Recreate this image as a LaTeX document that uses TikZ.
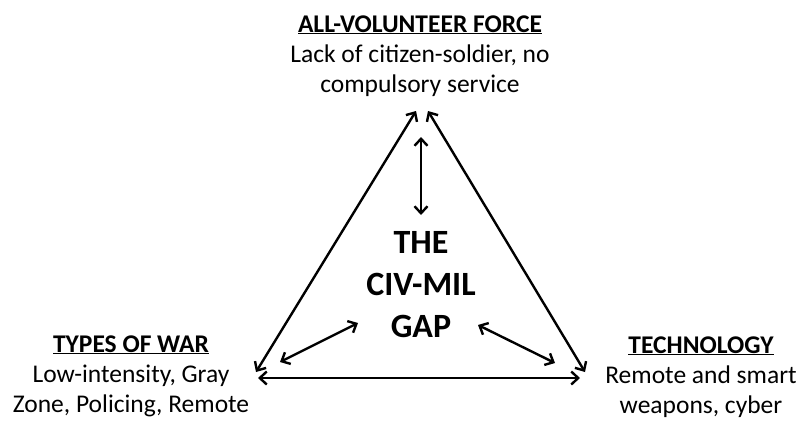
\documentclass[tikz,border=0pt]{standalone}
\usepackage{fontspec}
\setmainfont{Carlito}
\usetikzlibrary{arrows.meta}
\begin{document}
\begin{tikzpicture}[x=1pt,y=-1pt,
  dblarrow/.style={line width=2.4pt,{Straight Barb[length=7pt,width=13pt]}-{Straight Barb[length=7pt,width=13pt]}},
  label/.style={align=center,font=\fontsize{25.5}{30}\selectfont,inner sep=0pt,anchor=base},
  gap/.style={align=center,font=\fontsize{34}{42}\selectfont\bfseries,inner sep=0pt,anchor=base}]
\useasboundingbox (0,0) rectangle (797,421);
\node[label] (avf) at (420,92) {\textbf{\underline{ALL-VOLUNTEER FORCE}}\\Lack of citizen-soldier, no\\compulsory service};
\node[label] (tow) at (131,412) {\textbf{\underline{TYPES OF WAR}}\\Low-intensity, Gray\\Zone, Policing, Remote};
\node[label] (tech) at (701,413) {\textbf{\underline{TECHNOLOGY}}\\Remote and smart\\weapons, cyber};
\node[gap] (gap) at (421,337) {THE\\CIV-MIL\\GAP};
\coordinate (tl) at (416,111);
\coordinate (tr) at (428,111);
\coordinate (bl) at (256,372);
\coordinate (br) at (585,372);
\coordinate (hl) at (258,378);
\coordinate (hr) at (580,378);
\coordinate (vt) at (421,137);
\coordinate (vb) at (421,215);
\coordinate (il1) at (358,323);
\coordinate (il2) at (280,362);
\coordinate (ir1) at (478,325);
\coordinate (ir2) at (555,363);
\draw[dblarrow] (bl) -- (tl);
\draw[dblarrow] (br) -- (tr);
\draw[dblarrow] (hl) -- (hr);
\draw[dblarrow] (vt) -- (vb);
\draw[dblarrow] (il1) -- (il2);
\draw[dblarrow] (ir1) -- (ir2);
\end{tikzpicture}
\end{document}
